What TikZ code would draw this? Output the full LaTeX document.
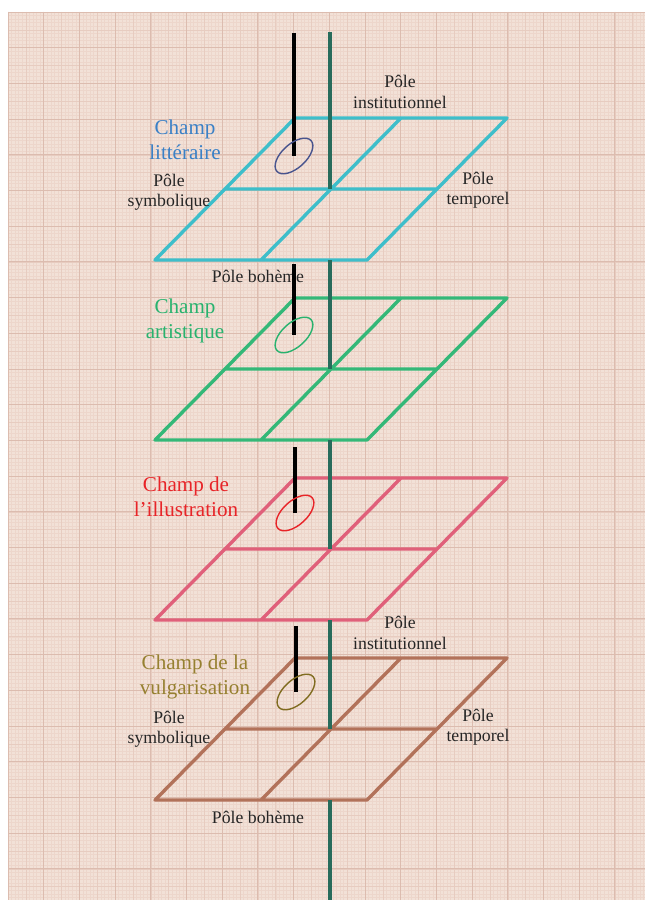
\documentclass[tikz,border=0pt]{standalone}
\usepackage{fontspec}
\setmainfont{Liberation Serif}
\definecolor{paper}{RGB}{242,225,215}
\definecolor{minorline}{RGB}{237,214,203}
\definecolor{midline}{RGB}{231,204,192}
\definecolor{majorline}{RGB}{220,188,175}
\definecolor{spinegreen}{RGB}{40,108,92}
\definecolor{littplane}{RGB}{62,190,202}
\definecolor{littink}{RGB}{58,128,198}
\definecolor{littring}{RGB}{72,84,142}
\definecolor{artplane}{RGB}{52,184,120}
\definecolor{artink}{RGB}{40,178,110}
\definecolor{illplane}{RGB}{224,96,122}
\definecolor{illink}{RGB}{232,36,40}
\definecolor{vulgplane}{RGB}{178,114,90}
\definecolor{vulgink}{RGB}{150,128,48}
\definecolor{vulgring}{RGB}{128,108,32}

\begin{document}
\begin{tikzpicture}[x=0.025cm, y=-0.025cm,
    field/.style={line width=2.4pt, line join=round, line cap=round},
    pole/.style={align=center, text=black!85, inner sep=0pt, font=\fontsize{12.6}{14.5}\selectfont},
    champ/.style={align=center, inner sep=0pt, font=\fontsize{15}{17.5}\selectfont},
    ring/.style={line width=1pt},
    spine/.style={draw=spinegreen, line width=2.4pt},
    stick/.style={draw=black, line width=2.6pt}]
  \useasboundingbox (0,0) rectangle (645,900);
  \fill[white] (0,0) rectangle (645,900);
  \fill[paper] (8,12) rectangle (645,900);

  % graph paper
  \foreach \i in {0,...,178} \draw[minorline, line width=0.3pt] (8+3.57*\i,12) -- (8+3.57*\i,900);
  \foreach \i in {0,...,248} \draw[minorline, line width=0.3pt] (8,12+3.57*\i) -- (645,12+3.57*\i);
  \foreach \i in {0,5,...,175} \draw[midline, line width=0.4pt] (8+3.57*\i,12) -- (8+3.57*\i,900);
  \foreach \i in {0,5,...,245} \draw[midline, line width=0.4pt] (8,12+3.57*\i) -- (645,12+3.57*\i);
  \foreach \i in {0,10,...,170} \draw[majorline, line width=0.6pt] (8+3.57*\i,12) -- (8+3.57*\i,900);
  \foreach \i in {0,10,...,240} \draw[majorline, line width=0.6pt] (8,12+3.57*\i) -- (645,12+3.57*\i);

  % the four fields
  \draw[field, littplane] (295,118) -- (507,118) -- (367,260) -- (155,260) -- cycle
    (401,118) -- (261,260) (225,189) -- (437,189);
  \draw[field, artplane] (295,298) -- (507,298) -- (367,440) -- (155,440) -- cycle
    (401,298) -- (261,440) (225,369) -- (437,369);
  \draw[field, illplane] (295,478) -- (507,478) -- (367,620) -- (155,620) -- cycle
    (401,478) -- (261,620) (225,549) -- (437,549);
  \draw[field, vulgplane] (295,658) -- (507,658) -- (367,800) -- (155,800) -- cycle
    (401,658) -- (261,800) (225,729) -- (437,729);

  \coordinate (top) at (330,32);
  \coordinate (c1) at (330,189);
  \coordinate (b1) at (330,260);
  \coordinate (c2) at (330,369);
  \coordinate (b2) at (330,440);
  \coordinate (c3) at (330,549);
  \coordinate (b3) at (330,620);
  \coordinate (c4) at (330,729);
  \coordinate (b4) at (330,800);
  \coordinate (bottom) at (330,900);
  \path[spine] (top) edge (c1) (b1) edge (c2) (b2) edge (c3) (b3) edge (c4) (b4) edge (bottom);

  % labels
  \node[pole] (inst1) at (400,92) {Pôle\\institutionnel};
  \node[pole] (symb1) at (169,192) {Pôle\\symbolique};
  \node[pole] (temp1) at (478,190) {Pôle\\temporel};
  \node[pole] (boh1) at (258,276) {Pôle bohème};
  \node[pole] (inst4) at (400,633) {Pôle\\institutionnel};
  \node[pole] (symb4) at (169,729) {Pôle\\symbolique};
  \node[pole] (temp4) at (478,727) {Pôle\\temporel};
  \node[pole] (boh4) at (258,817) {Pôle bohème};

  \node[champ, text=littink] (litt) at (185,140) {Champ\\littéraire};
  \node[champ, text=artink] (art) at (185,321) {Champ\\artistique};
  \node[champ, text=illink] (ill) at (186,497) {Champ de\\l’illustration};
  \node[champ, text=vulgink] (vulg) at (195,677) {Champ de la\\vulgarisation};

  % sticks and rings
  \coordinate (s1) at (294,33);
  \coordinate (e1) at (294,156);
  \coordinate (s2) at (294,264);
  \coordinate (e2) at (294,335);
  \coordinate (s3) at (295,447);
  \coordinate (e3) at (295,513);
  \coordinate (s4) at (296,626);
  \coordinate (e4) at (296,692);
  \path[stick] (s1) edge (e1) (s2) edge (e2) (s3) edge (e3) (s4) edge (e4);

  \draw[ring, littring, rotate around={42:(e1)}] (e1) ellipse [x radius=23, y radius=12];
  \draw[ring, artink, rotate around={42:(e2)}] (e2) ellipse [x radius=23, y radius=12];
  \draw[ring, illink, rotate around={42:(e3)}] (e3) ellipse [x radius=23, y radius=12];
  \draw[ring, vulgring, rotate around={42:(e4)}] (e4) ellipse [x radius=23, y radius=12];
\end{tikzpicture}
\end{document}
